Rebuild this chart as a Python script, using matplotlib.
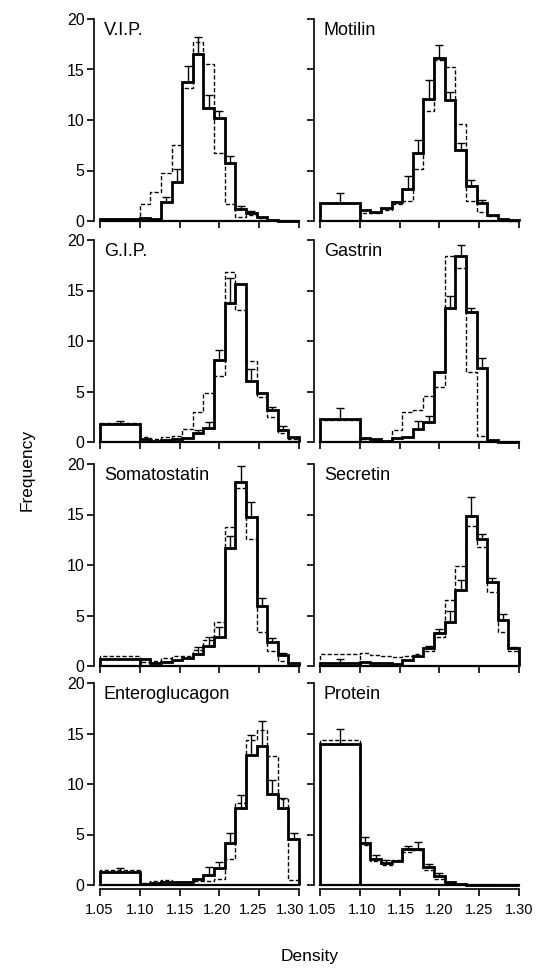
import numpy as np
import matplotlib
matplotlib.use("Agg")
import matplotlib.pyplot as plt
from matplotlib.transforms import ScaledTranslation

plt.rcParams['font.family'] = ['Liberation Sans', 'DejaVu Sans']

# Bin edges (density): one wide bin 1.05-1.10, then 15 narrow bins to 1.30
edges = [1.05, 1.10, 1.1133, 1.1267, 1.14, 1.1533, 1.1667, 1.18, 1.1933,
         1.2067, 1.22, 1.2333, 1.2467, 1.26, 1.2733, 1.2867, 1.30]

x_ticks = [1.05, 1.10, 1.15, 1.20, 1.25, 1.30]
y_ticks = [0, 5, 10, 15, 20]

titles = ["V.I.P.", "Motilin", "G.I.P.", "Gastrin",
          "Somatostatin", "Secretin", "Enteroglucagon", "Protein"]

vip_solid = [0.15, 0.3, 0.2, 1.9, 3.9, 13.8, 16.5, 11.2, 10.2, 5.7, 1.2, 0.8, 0.4, 0.1, 0.0, 0.0]
vip_dashed = [0.2, 1.7, 2.9, 4.8, 7.5, 13.2, 17.7, 15.5, 6.7, 1.7, 0.4, 0.6, 0.3, 0.1, 0.0, 0.0]
vip_err = [0, 0, 0, 2.4, 5.1, 15.3, 18.2, 12.5, 10.9, 6.4, 1.5, 1.0, 0, 0, 0, 0]

motilin_solid = [1.8, 1.1, 0.9, 1.3, 1.9, 3.2, 6.7, 12.1, 16.1, 12.0, 7.0, 3.5, 1.8, 0.6, 0.2, 0.05]
motilin_dashed = [1.8, 0.8, 0.8, 1.1, 1.7, 2.0, 5.1, 10.9, 15.9, 15.2, 9.6, 2.0, 0.9, 0.5, 0.1, 0.0]
motilin_err = [2.8, 0, 0, 0, 0, 4.5, 8.0, 14.0, 17.4, 12.8, 7.7, 4.1, 2.1, 0, 0, 0]

gip_solid = [1.8, 0.3, 0.1, 0.2, 0.3, 0.4, 0.9, 1.4, 8.1, 13.8, 15.6, 6.0, 4.9, 3.2, 1.2, 0.5]
gip_dashed = [1.9, 0.5, 0.3, 0.5, 0.6, 1.3, 3.0, 4.9, 6.5, 16.8, 13.1, 8.0, 4.5, 2.5, 0.9, 0.3]
gip_err = [2.1, 0, 0, 0, 0, 0, 1.2, 2.0, 9.1, 16.2, 0, 7.2, 0, 3.5, 1.6, 0]

gastrin_solid = [2.3, 0.4, 0.3, 0.1, 0.4, 0.5, 1.3, 2.0, 6.9, 13.3, 18.4, 12.9, 7.3, 0.2, 0.0, 0.0]
gastrin_dashed = [2.2, 0.3, 0.2, 0.1, 1.2, 3.0, 3.2, 4.6, 5.4, 18.4, 17.2, 6.9, 0.6, 0.1, 0.0, 0.0]
gastrin_err = [3.4, 0, 0, 0, 0, 0, 2.1, 2.6, 0, 14.5, 19.5, 13.3, 8.3, 0, 0, 0]

somato_solid = [0.7, 0.7, 0.3, 0.4, 0.6, 0.8, 1.2, 2.0, 2.9, 11.7, 18.2, 14.8, 5.9, 2.4, 1.1, 0.3]
somato_dashed = [1.0, 0.4, 0.5, 0.8, 1.0, 1.0, 1.6, 2.6, 4.4, 13.8, 17.6, 12.6, 3.4, 1.5, 0.5, 0.1]
somato_err = [0, 0, 0, 0, 0, 0, 1.9, 2.9, 3.9, 12.9, 19.8, 16.2, 6.7, 2.8, 1.3, 0]

secretin_solid = [0.3, 0.4, 0.3, 0.3, 0.2, 0.6, 1.0, 1.8, 3.3, 4.4, 7.5, 14.9, 12.6, 8.3, 4.6, 1.8]
secretin_dashed = [1.2, 1.3, 1.1, 1.0, 0.9, 1.0, 1.2, 1.5, 2.9, 6.5, 9.9, 13.9, 11.8, 7.3, 3.4, 1.5]
secretin_err = [0.7, 0, 0, 0, 0, 0, 0, 2.0, 3.7, 5.4, 8.5, 16.7, 13.1, 8.7, 5.1, 1.9]

entero_solid = [1.3, 0.1, 0.2, 0.3, 0.3, 0.3, 0.6, 1.0, 1.7, 4.2, 7.6, 12.9, 13.8, 9.0, 7.6, 4.6]
entero_dashed = [1.5, 0.2, 0.4, 0.5, 0.3, 0.3, 0.4, 0.4, 0.6, 2.6, 8.1, 14.4, 15.3, 12.8, 8.5, 0.5]
entero_err = [1.7, 0, 0, 0, 0, 0, 0, 1.8, 2.3, 5.1, 8.9, 14.9, 16.2, 10.4, 8.6, 5.1]

protein_solid = [14.0, 4.2, 2.6, 2.2, 2.4, 3.6, 3.6, 1.8, 0.9, 0.3, 0.1, 0, 0, 0, 0, 0]
protein_dashed = [14.4, 4.0, 2.4, 2.0, 2.5, 3.3, 3.5, 1.5, 0.6, 0.2, 0.05, 0, 0, 0, 0, 0]
protein_err = [15.4, 4.8, 3.0, 2.5, 0, 3.9, 4.3, 2.1, 1.2, 0, 0, 0, 0, 0, 0, 0]

panels = [
    (vip_solid, vip_dashed, vip_err),
    (motilin_solid, motilin_dashed, motilin_err),
    (gip_solid, gip_dashed, gip_err),
    (gastrin_solid, gastrin_dashed, gastrin_err),
    (somato_solid, somato_dashed, somato_err),
    (secretin_solid, secretin_dashed, secretin_err),
    (entero_solid, entero_dashed, entero_err),
    (protein_solid, protein_dashed, protein_err),
]

W, H = 545, 969
fig = plt.figure(figsize=(W / 100, H / 100), dpi=100)

col_x = [100, 320]
row_bot = [221, 442, 666, 885]
pw, ph = 199, 202

# small horizontal nudges (pixels) of the printed density labels, as typeset
label_nudge = [[-1, 0, 0, -2, -6, -9], [2, 2, 1, 0, 0, 0]]

e = np.array(edges)
centers = (e[:-1] + e[1:]) / 2

for i, (s, d, er) in enumerate(panels):
    r, c = divmod(i, 2)
    ax = fig.add_axes([col_x[c] / W, 1 - row_bot[r] / H, pw / W, ph / H])
    s = np.array(s, dtype=float)
    d = np.array(d, dtype=float)
    er = np.array(er, dtype=float)

    # dashed histogram
    ax.stairs(d, e, baseline=0, color='black', lw=1.0,
              linestyle=(0, (3, 1.6)), clip_on=False, zorder=2)
    ax.vlines(e[1], 0, min(d[0], d[1]), color='black', lw=1.0,
              linestyles=[(0, (3, 1.6))], clip_on=False, zorder=2)
    # solid histogram
    sp = ax.stairs(s, e, baseline=0, color='black', lw=2.0,
                   clip_on=False, zorder=3)
    sp.set_joinstyle('miter')
    ax.vlines(e[1], 0, min(s[0], s[1]), color='black', lw=2.0,
              clip_on=False, zorder=3)
    # baseline
    ax.plot([e[0], e[-1]], [0, 0], color='black', lw=1.6, clip_on=False, zorder=3)

    # error bars (upward from solid top)
    m = er > s
    if m.any():
        up = er[m] - s[m]
        ax.errorbar(centers[m], s[m], yerr=[np.zeros_like(up), up], fmt='none',
                    ecolor='black', elinewidth=1.0, capsize=2.6, capthick=1.0,
                    clip_on=False, zorder=4)

    ax.set_xlim(1.05, 1.30)
    ax.set_ylim(0, 20)
    for side in ['top', 'right']:
        ax.spines[side].set_visible(False)
    ax.spines['left'].set_position(('outward', 4))
    ax.spines['bottom'].set_position(('outward', 3 if r == 3 else 0))
    for side in ['left', 'bottom']:
        ax.spines[side].set_linewidth(1.2)

    ax.set_xticks(x_ticks)
    ax.set_yticks(y_ticks)
    ax.tick_params(axis='both', direction='out', length=5, width=1.2,
                   colors='black')
    ax.tick_params(axis='y', pad=2, labelsize=11.5)
    ax.tick_params(axis='x', pad=5, labelsize=10.5)
    if r == 3:
        ax.set_xticklabels([f"{t:.2f}" for t in x_ticks])
    else:
        ax.set_xticklabels([])
    if c == 0:
        ax.set_yticklabels([str(t) for t in y_ticks])
    else:
        ax.set_yticklabels([])
    if r == 3:
        for tick, dx in zip(ax.xaxis.get_major_ticks(), label_nudge[c]):
            lab = tick.label1
            lab.set_transform(lab.get_transform() +
                              ScaledTranslation(dx / 100, 0, fig.dpi_scale_trans))

    ax.text(0.02, 0.985, titles[i], transform=ax.transAxes, ha='left', va='top',
            fontsize=13, color='black')

fig.text(27 / W, 1 - 470 / H, 'Frequency', rotation=90, ha='center', va='center',
         fontsize=12.5)
fig.text(310 / W, 1 - 957 / H, 'Density', ha='center', va='center', fontsize=12.5)

fig.savefig('out.png', dpi=100, facecolor='white')
